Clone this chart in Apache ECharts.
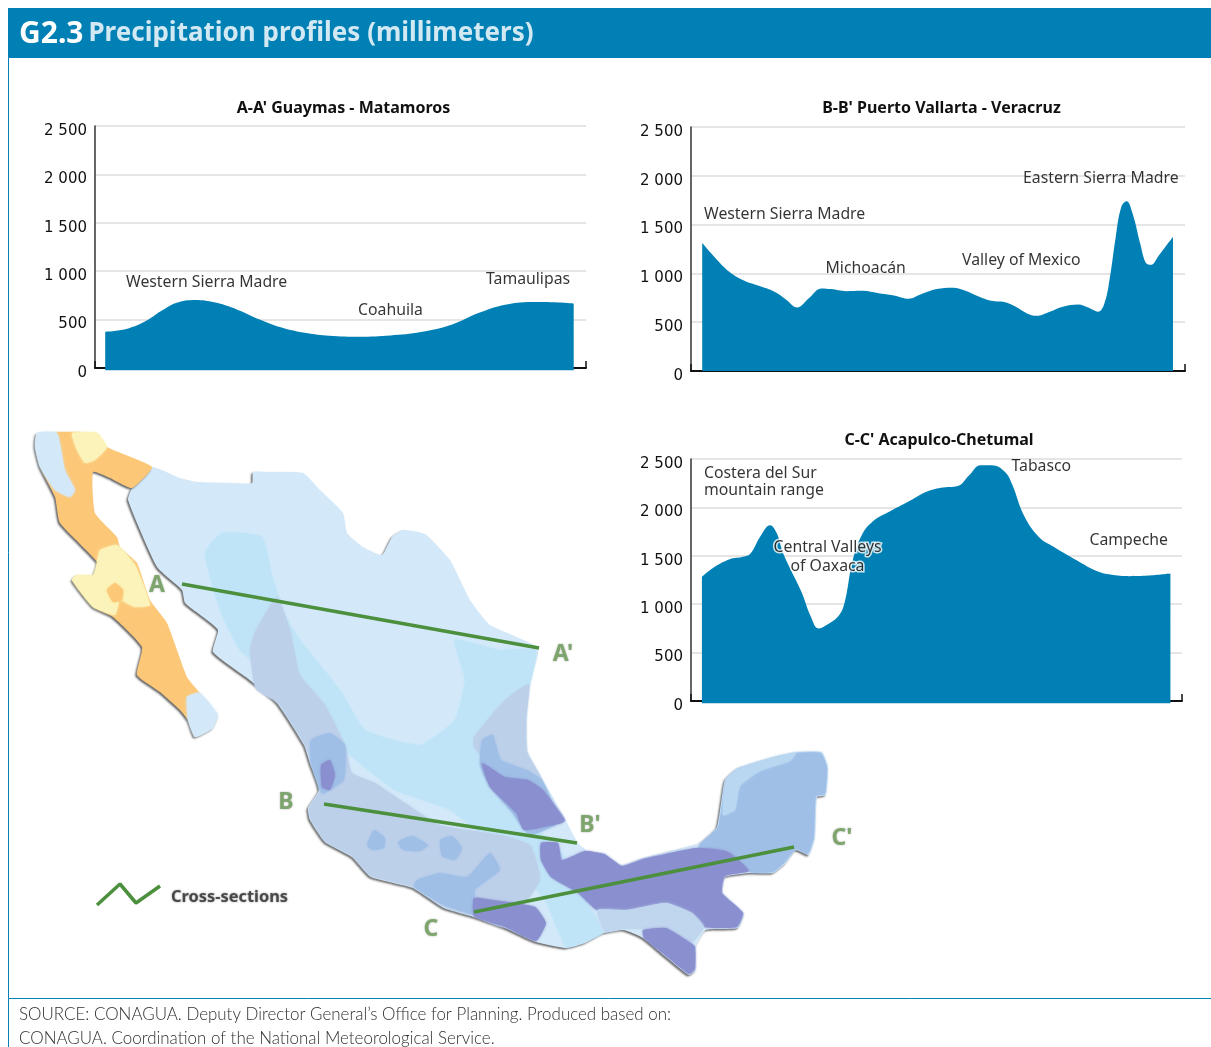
<!DOCTYPE html>
<html>
<head>
<meta charset="utf-8">
<style>
  html, body { margin: 0; padding: 0; background: #fff; }
  #chart { width: 1211px; height: 1047px; }
</style>
<script src="https://cdn.jsdelivr.net/npm/echarts@6/dist/echarts.min.js"></script>
</head>
<body>
<div id="chart"></div>
<script>
var BLUE = '#0080b4';
var yTickLabels = ['0', '500', '1 000', '1 500', '2 000', '2 500'];

// profile data: [position along the section, precipitation in mm]
var profileA = [[10.2,375],[31.3,403],[50.4,482],[65.7,585],[81,672],[100.2,703],[119.3,678],[142.3,603],[165.2,499],[188.2,413],[211.2,362],[234.1,334],[264.7,324],[295.4,337],[326,372],[356.6,448],[383.4,568],[410.2,654],[440.8,682],[459.9,678],[478.7,665]];
var profileB = [[11.2,1313],[23.2,1170],[38.3,1016],[53.4,924],[68.5,870],[83.5,812],[94.9,733],[106.2,651],[117.5,743],[130.7,846],[140.1,839],[155.2,818],[170.2,822],[189.1,795],[204.2,771],[217.4,740],[230.5,788],[245.6,839],[260.7,853],[275.8,818],[287.1,767],[300.3,720],[313.5,706],[324.8,658],[336.1,590],[345.5,566],[358.7,607],[371.9,658],[387,682],[398.3,645],[407,607],[413.4,692],[419,965],[424.7,1374],[430.3,1681],[435.6,1739],[441.6,1613],[449.2,1306],[454.8,1108],[459.7,1088],[468,1187],[475.5,1289],[482,1374]];
var profileC = [[10.9,1283],[23.7,1386],[38.8,1465],[52,1489],[59.5,1523],[69,1695],[79.1,1816],[85.9,1730],[91.6,1541],[99.1,1369],[110.4,1128],[119.9,870],[127.4,750],[136.8,794],[148.1,887],[153.8,1025],[161.3,1437],[170.7,1713],[182,1857],[200.9,1970],[219.7,2074],[234.8,2160],[249.9,2204],[266.9,2222],[278.2,2332],[289.5,2435],[300.8,2435],[314,2366],[321.5,2228],[332.8,1919],[347.9,1695],[363,1592],[385.6,1455],[406.3,1341],[419.5,1307],[438.4,1290],[457.2,1296],[479.4,1317]];

// annotation: [position, mm, text]
var notesA = [[31,880,'Western Sierra Madre'],[263,590,'Coahuila'],[391,910,'Tamaulipas']];
var notesB = [[13,1607,'Western Sierra Madre'],[134.5,1054,'Michoacán'],[271,1136,'Valley of Mexico'],[332,1975,'Eastern Sierra Madre']];
var notesC = [[13,2260,'Costera del Sur\nmountain range'],[320.5,2425,'Tabasco'],[398.5,1661,'Campeche']];
var notesCHalo = [[136.5,1491,'Central Valleys\nof Oaxaca']];

// map outlines and precipitation zones, in map units
var mainland = [[152,467],[180,478],[197,482],[230,483],[252,483],[253,472],[267,472],[303,473],[320,490],[343,513],[347,533],[363,547],[382,555],[392,537],[403,530],[425,534],[450,560],[470,600],[490,625],[538,648],[530,680],[527,720],[528,752],[543,780],[562,813],[578,843],[589,852],[604,853],[622,865],[643,858],[666,852],[700,843],[717,827],[725,780],[738,768],[773,757],[796,752],[822,752],[828,767],[826,795],[817,797],[815,837],[809,855],[796,850],[786,863],[773,873],[750,873],[725,877],[723,893],[744,913],[738,928],[706,930],[696,947],[696,970],[689,975],[666,957],[643,938],[624,930],[604,933],[585,943],[566,948],[536,942],[505,928],[474,917],[444,908],[413,888],[371,877],[352,857],[325,842],[310,820],[308,808],[319,790],[310,763],[304,745],[277,703],[247,678],[213,652],[218,630],[203,617],[185,603],[182,590],[157,567],[128,500],[132,488]];
var baja = [[37,433],[97,433],[107,447],[152,467],[132,488],[110,478],[93,472],[95,513],[117,537],[120,547],[137,563],[150,600],[167,623],[187,677],[200,693],[218,715],[213,728],[195,737],[188,720],[180,710],[160,692],[137,675],[142,647],[113,617],[93,607],[72,580],[77,575],[93,575],[97,562],[60,523],[55,497],[40,467],[35,447]];
var bajaNorthWest = [[37,433],[57,433],[65,470],[75,490],[70,497],[55,490],[40,467],[35,447]];
var bajaNorthYellow = [[72,433],[97,433],[107,447],[95,460],[85,463],[77,450]];
var bajaMiddleYellow = [[100,550],[117,545],[135,565],[150,605],[135,607],[120,600],[115,615],[93,607],[72,580],[77,575],[93,575],[97,562]];
var bajaSpot = [[107,590],[115,583],[123,590],[122,600],[113,602]];
var bajaSouth = [[187,697],[200,693],[218,715],[213,728],[195,737],[188,720]];
var plateauBand = [[205,553],[222,533],[262,537],[272,575],[285,615],[300,640],[340,690],[365,730],[420,745],[455,720],[465,680],[455,640],[500,650],[536,650],[527,695],[505,735],[495,770],[515,810],[560,850],[580,890],[603,932],[585,942],[566,947],[545,900],[500,850],[450,810],[395,790],[350,755],[310,720],[275,680],[240,650],[220,610]];
var westSierra = [[277,597],[290,630],[300,675],[325,705],[345,745],[352,773],[375,783],[405,803],[440,825],[500,835],[530,845],[540,880],[505,927],[474,916],[444,907],[413,887],[371,876],[352,856],[325,841],[311,820],[309,808],[320,790],[311,763],[305,745],[278,703],[256,689],[250,650],[255,632]];
var huasteca = [[474,737],[505,700],[529,684],[526,720],[527,752],[542,780],[505,767],[486,760],[474,747]];
var yucatan = [[700,844],[718,827],[726,780],[738,769],[773,758],[796,753],[821,753],[827,767],[825,794],[816,796],[814,837],[808,854],[796,849],[785,862],[773,872],[750,872],[727,850],[698,850]];
var yucatanFringe = [[726,780],[738,769],[773,758],[796,753],[790,761],[760,771],[740,786],[735,810],[723,815]];
var westBlob = [[311,740],[330,733],[345,745],[344,780],[323,794],[320,790],[311,763]];
var southBlob = [[414,887],[417,880],[440,873],[467,877],[490,853],[500,870],[475,890],[474,914],[444,905]];
var midBlobA = [[367,845],[374,830],[385,838],[384,848],[372,850]];
var midBlobB = [[398,842],[412,836],[428,845],[420,851],[403,850]];
var midBlobC = [[440,840],[452,836],[462,848],[455,860],[442,856]];
var easternSlope = [[482,740],[493,735],[501,760],[527,770],[542,780],[554,805],[564,820],[530,835],[510,810],[490,787],[480,765]];
var easternBand = [[482,763],[505,777],[528,780],[543,790],[565,820],[562,823],[524,830],[516,813],[490,787]];
var tabascoBand = [[541,843],[558,843],[562,860],[585,851],[604,854],[622,866],[643,859],[696,848],[727,851],[749,871],[725,876],[722,893],[743,913],[737,927],[704,927],[692,913],[666,903],[627,910],[597,910],[578,893],[551,877],[541,860]];
var isthmus = [[597,910],[627,910],[666,903],[692,913],[704,927],[692,942],[666,927],[643,929],[624,929],[605,932]];
var chiapas = [[643,930],[666,928],[691,943],[695,947],[695,969],[689,974],[666,956],[644,938]];
var oaxaca = [[474,898],[493,900],[535,907],[546,923],[536,941],[505,927],[474,916]];
var westPurple = [[321,765],[330,760],[335,775],[330,790],[322,787]];

var sectionA = [[182,584],[539,648]];
var sectionB = [[324,804],[577,843]];
var sectionC = [[474,912],[794,847]];
var sectionKey = [[97,905],[120,884],[136,903],[160,886]];
var sectionLabels = [[157,585,'A'],[563,654,"A'"],[286,802,'B'],[590,825,"B'"],[431,929,'C'],[842,838,"C'"]];
var keyLabel = [[171,897,'Cross-sections']];

var SKY = '#d3e9f9', PLATEAU = '#bfe4f7', LILAC = '#bdd0ea', MID = '#9fbfe7', PURPLE = '#8a90cf';
var ORANGE = '#fcc878', YELLOW = '#fbf3b9';
var mapZones = [
    [mainland, SKY], [baja, ORANGE], [bajaNorthWest, SKY], [bajaNorthYellow, YELLOW],
    [bajaMiddleYellow, YELLOW], [bajaSpot, ORANGE], [bajaSouth, SKY],
    [plateauBand, PLATEAU], [westSierra, LILAC], [huasteca, LILAC], [yucatan, MID],
    [yucatanFringe, '#b9d7f1'], [westBlob, MID], [southBlob, MID], [midBlobA, MID], [midBlobB, MID],
    [midBlobC, MID], [easternSlope, MID], [easternBand, PURPLE], [tabascoBand, PURPLE],
    [isthmus, '#c0d6ef'], [chiapas, PURPLE], [oaxaca, PURPLE], [westPurple, PURPLE]
];

var TEXT_FONT = '"Noto Sans", sans-serif';
var grids = [
    { left: 95, top: 126, width: 491, height: 242 },
    { left: 691, top: 127, width: 494, height: 244 },
    { left: 691, top: 459, width: 491, height: 242 },
    { left: 0, top: 0, width: 1211, height: 1047 }
];
var titles = [
    [343.5, 99, "A-A' Guaymas - Matamoros"],
    [941.5, 99, "B-B' Puerto Vallarta - Veracruz"],
    [939, 431, "C-C' Acapulco-Chetumal"]
];

function noteSeries(idx, notes, align, halo) {
    return {
        type: 'scatter', xAxisIndex: idx, yAxisIndex: idx, symbolSize: 0, silent: true, z: 5,
        data: notes,
        label: {
            show: true, position: 'inside', align: align, verticalAlign: 'middle',
            formatter: function (p) { return p.data[2]; },
            fontFamily: TEXT_FONT, fontSize: 15.8, lineHeight: halo ? 19 : 17, color: '#000',
            textBorderColor: halo ? '#fff' : 'transparent', textBorderWidth: halo ? 3 : 0
        }
    };
}
function profileSeries(idx, data, origin) {
    return {
        type: 'line', xAxisIndex: idx, yAxisIndex: idx, data: data, smooth: 0.4,
        showSymbol: false, clip: false, lineStyle: { width: 0 },
        areaStyle: { color: BLUE, opacity: 1, origin: origin }, silent: true
    };
}
function sectionSeries(data, width) {
    return {
        type: 'line', xAxisIndex: 3, yAxisIndex: 3, data: data, showSymbol: false, z: 6, silent: true,
        lineStyle: { color: '#4c8f3d', width: width }
    };
}
var xAxes = grids.map(function (g, i) {
    if (i === 3) return { gridIndex: 3, type: 'value', min: 0, max: 1211, show: false };
    return {
        gridIndex: i, type: 'value', min: 0, max: g.width, interval: g.width, position: 'bottom',
        axisLine: { onZero: false, lineStyle: { color: '#111', width: 2 } },
        axisTick: { show: true, inside: true, length: 7, lineStyle: { color: '#111', width: 1.5 } },
        axisLabel: { show: false }, splitLine: { show: false }
    };
});
var yAxes = grids.map(function (g, i) {
    if (i === 3) return { gridIndex: 3, type: 'value', min: 0, max: 1047, inverse: true, show: false };
    return {
        gridIndex: i, type: 'value', min: 0, max: 2500, interval: 500,
        axisLine: { show: true, lineStyle: { color: '#333', width: 1.5 } },
        axisTick: { show: false },
        axisLabel: {
            formatter: function (v) { return yTickLabels[v / 500]; },
            fontFamily: '"DejaVu Sans", sans-serif', fontSize: 15, color: '#111', margin: 8,
            verticalAlign: 'top', lineHeight: 10
        },
        splitLine: { showMinLine: false, lineStyle: { color: '#dcdcdc', width: 1.5 } }
    };
});

var chart = echarts.init(document.getElementById('chart'), null, { renderer: 'canvas' });
chart.setOption({
    animation: false,
    backgroundColor: '#fff',
    grid: grids,
    xAxis: xAxes,
    yAxis: yAxes,
    title: titles.map(function (t) {
        return {
            text: t[2], left: t[0], top: t[1], textAlign: 'center', padding: 0,
            textStyle: { fontFamily: TEXT_FONT, fontSize: 16, fontWeight: 'bold', color: '#111', lineHeight: 18 }
        };
    }).concat([{
        text: '{code|G2.3} {head|Precipitation profiles (millimeters)}', left: 19, top: 19, padding: 0,
        textStyle: {
            rich: {
                code: { fontFamily: TEXT_FONT, fontSize: 30, fontWeight: 'bold', color: '#fff' },
                head: { fontFamily: TEXT_FONT, fontSize: 26, fontWeight: 'bold', color: '#d2e8f3' }
            }
        }
    }, {
        text: 'SOURCE: CONAGUA. Deputy Director General\u2019s Office for Planning. Produced based on:\nCONAGUA. Coordination of the National Meteorological Service.',
        left: 19, top: 1003, padding: 0,
        textStyle: { fontFamily: '"Lato", sans-serif', fontSize: 16.95, fontWeight: 300, color: '#303030', lineHeight: 24 }
    }]),
    graphic: [
        { type: 'rect', z: -1, shape: { x: 8, y: 8, width: 1203, height: 50 }, style: { fill: BLUE } },
        { type: 'line', z: -1, shape: { x1: 8.5, y1: 58, x2: 8.5, y2: 1047 }, style: { stroke: BLUE, lineWidth: 1 } },
        { type: 'line', z: -1, shape: { x1: 8, y1: 998.5, x2: 1211, y2: 998.5 }, style: { stroke: BLUE, lineWidth: 1 } }
    ],
    series: [
        profileSeries(0, profileA, -22), profileSeries(1, profileB, 0), profileSeries(2, profileC, -22),
        noteSeries(0, notesA, 'left'), noteSeries(1, notesB, 'left'), noteSeries(2, notesC, 'left'),
        noteSeries(2, notesCHalo, 'center', true),
        {
            type: 'custom', xAxisIndex: 3, yAxisIndex: 3, silent: true, clip: false, z: 3,
            data: mapZones.map(function (z, i) { return [i, 0]; }),
            renderItem: function (params, api) {
                var zone = mapZones[params.dataIndex];
                var coast = zone[0] === mainland || zone[0] === baja;
                return {
                    type: 'polygon',
                    shape: { points: zone[0].map(function (p) { return api.coord(p); }), smooth: 0.15 },
                    style: {
                        fill: zone[1],
                        shadowColor: coast ? 'rgba(90,90,90,0.9)' : zone[1],
                        shadowBlur: coast ? 2 : 2.5, shadowOffsetX: coast ? -1.5 : 0, shadowOffsetY: coast ? 1.5 : 0
                    }
                };
            }
        },
        sectionSeries(sectionA, 3.5), sectionSeries(sectionB, 3.5), sectionSeries(sectionC, 3.5), sectionSeries(sectionKey, 3.5),
        {
            type: 'scatter', xAxisIndex: 3, yAxisIndex: 3, symbolSize: 0, silent: true, z: 7,
            data: sectionLabels,
            label: {
                show: true, position: 'inside', formatter: function (p) { return p.data[2]; },
                fontFamily: TEXT_FONT, fontSize: 23, fontWeight: 'bold', color: '#6fa05a',
                textShadowColor: '#9a9a9a', textShadowBlur: 2
            }
        },
        {
            type: 'scatter', xAxisIndex: 3, yAxisIndex: 3, symbolSize: 0, silent: true, z: 7,
            data: keyLabel,
            label: {
                show: true, position: 'inside', align: 'left', formatter: function (p) { return p.data[2]; },
                fontFamily: TEXT_FONT, fontSize: 16.4, fontWeight: 'bold', color: '#2f2f2f',
                textShadowColor: '#777', textShadowBlur: 2
            }
        }
    ]
});
</script>
</body>
</html>
